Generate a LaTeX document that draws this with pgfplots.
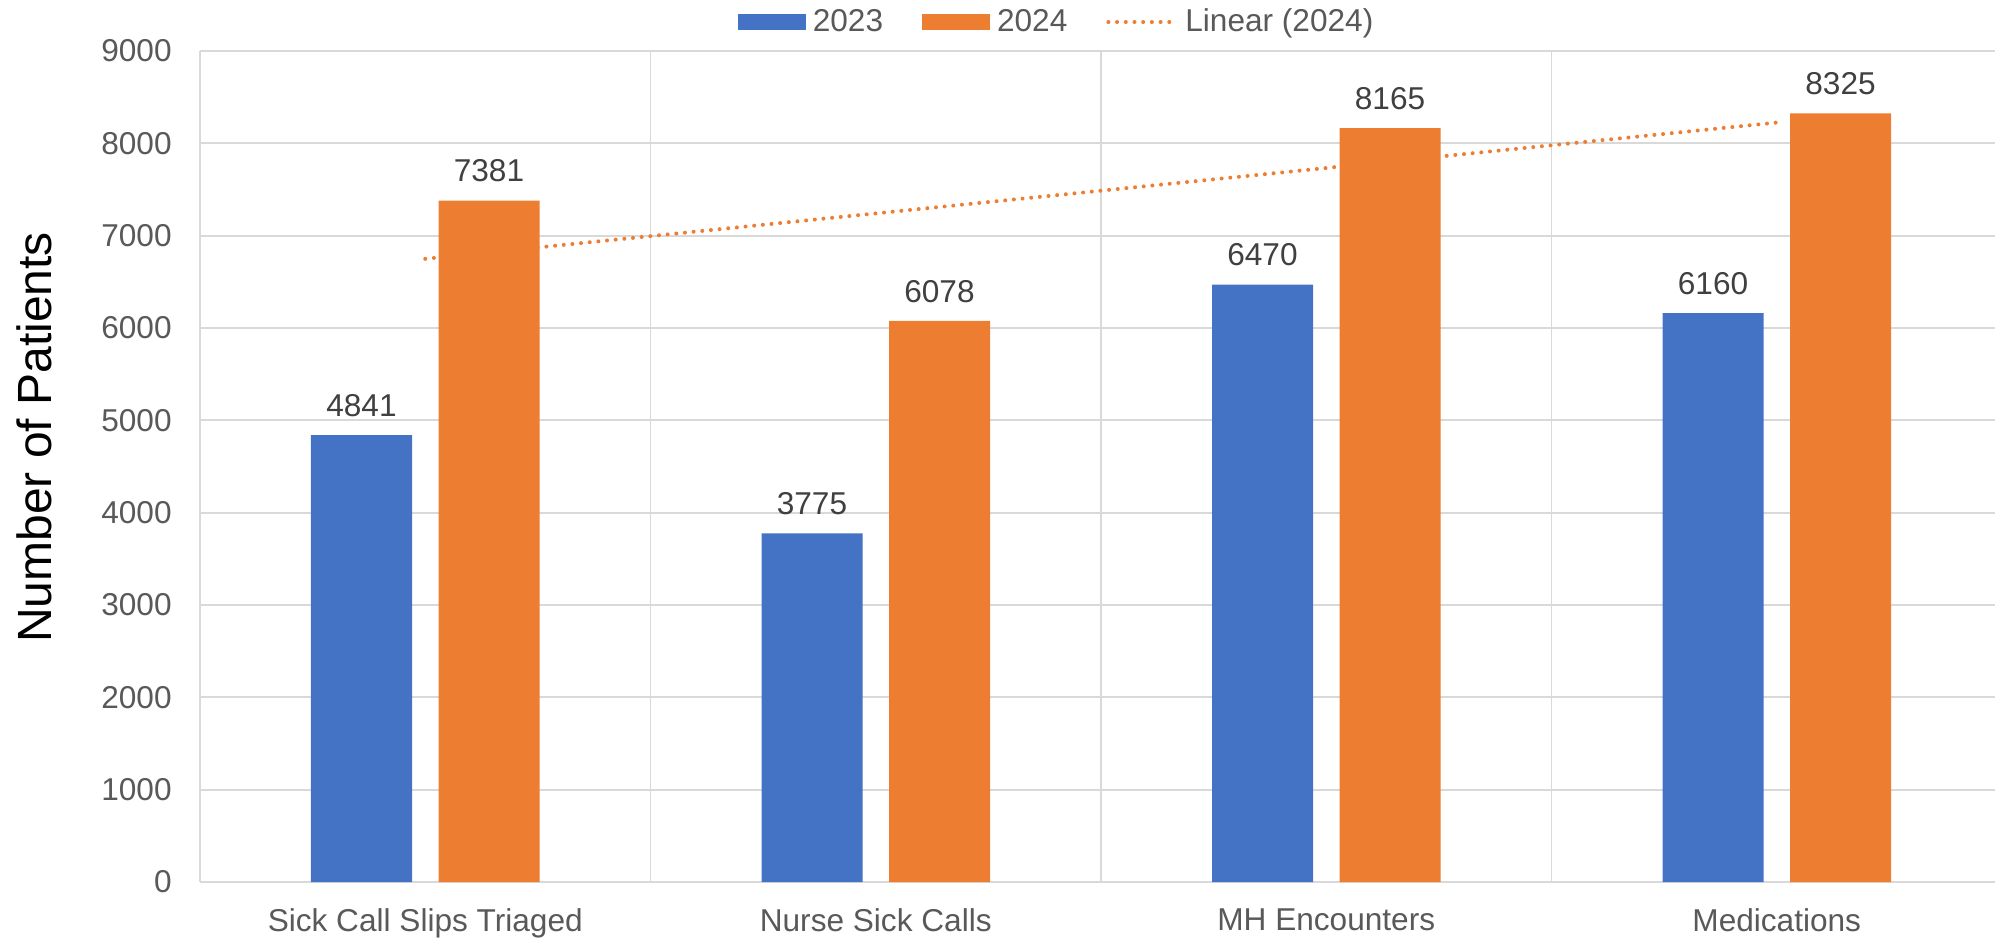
\documentclass[border=0pt]{standalone}
\usepackage{fontspec}
\setmainfont{Liberation Sans}
\usepackage{pgfplots}
\usepackage{pgfplotstable}
\pgfplotsset{compat=1.18}

\definecolor{blue23}{HTML}{4472C4}
\definecolor{orange24}{HTML}{ED7D31}
\definecolor{gridgray}{HTML}{D9D9D9}
\definecolor{tickgray}{HTML}{595959}
\definecolor{labelgray}{HTML}{404040}

% x = category index, y = number of patients
\pgfplotstableread{
x y
0 4841
1 3775
2 6470
3 6160
}\yeartwentythree

\pgfplotstableread{
x y
0 7381
1 6078
2 8165
3 8325
}\yeartwentyfour

% linear trend of 2024, end points
\pgfplotstableread{
x y
0 6749.4
3 8225.1
}\trendline

\newcommand{\chartfont}{\fontsize{15.8}{19}\selectfont}

\begin{document}
\begin{tikzpicture}
\begin{axis}[
  ybar,
  bar width=50.5pt,
  width=901pt, height=415.5pt,
  scale only axis,
  enlargelimits=false,
  xmin=-0.5, xmax=3.5,
  ymin=0, ymax=9000,
  ytick={0,1000,...,9000},
  xtick={0,1,2,3},
  xticklabels={Sick Call Slips Triaged, Nurse Sick Calls, MH Encounters, Medications},
  minor xtick={-0.5,0.5,1.5,2.5,3.5},
  xmajorgrids=false, xminorgrids=true, ymajorgrids=true,
  grid style={draw=gridgray, line width=0.9pt},
  minor grid style={draw=gridgray, line width=0.9pt},
  major tick length=0pt, minor tick length=0pt,
  tick style={draw=none},
  axis line style={draw=none},
  /pgf/number format/assume math mode=true,
  /pgf/number format/1000 sep={},
  yticklabel style={font=\chartfont, text=tickgray, inner sep=0pt, xshift=-14pt},
  xticklabel style={font=\chartfont, text=tickgray, inner sep=0pt, anchor=north, yshift=-13pt},
  ylabel={Number of Patients},
  ylabel style={at={(axis description cs:-0.0821,0.535)}, anchor=south,
    inner sep=0pt, font=\fontsize{24}{28}\selectfont, text=black},
  every node near coord/.append style={font=\chartfont, text=labelgray,
    anchor=south, inner sep=0pt, yshift=9pt},
  legend columns=3,
  legend style={at={(axis description cs:0.4748,1.0349)}, anchor=center,
    draw=none, fill=none, inner sep=0pt, outer sep=0pt,
    font=\chartfont, text=tickgray, nodes={inner sep=0pt}, column sep=0pt,
    /tikz/every odd column/.append style={column sep=3.5pt},
    /tikz/every even column/.append style={column sep=19.5pt}},
]

\addplot[fill=blue23, draw=none, bar shift=-31.875pt, nodes near coords,
  legend image code/.code={\fill[blue23] (0pt,-4pt) rectangle (34pt,4pt);}]
  table {\yeartwentythree};
\addlegendentry{2023}

\addplot[fill=orange24, draw=none, bar shift=31.875pt, nodes near coords,
  legend image code/.code={\fill[orange24] (0pt,-4pt) rectangle (34pt,4pt);}]
  table {\yeartwentyfour};
\addlegendentry{2024}

\addplot[sharp plot, draw=orange24, line width=2pt, line cap=round,
  dash pattern=on 0pt off 4.35pt,
  legend image code/.code={\draw[orange24, line width=2pt, line cap=round,
    dash pattern=on 0pt off 4.35pt] (0pt,0pt) -- (34pt,0pt);}]
  table {\trendline};
\addlegendentry{Linear (2024)}

\end{axis}
\pgfresetboundingbox
\path[use as bounding box] (-100pt,-28.5pt) rectangle (897.5pt,441pt);
\end{tikzpicture}
\end{document}
